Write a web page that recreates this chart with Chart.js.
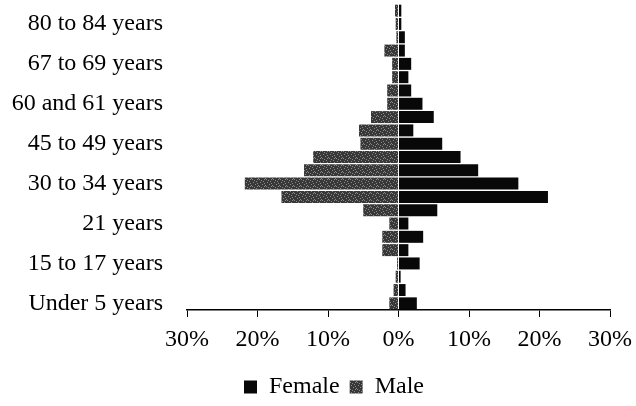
<!DOCTYPE html>
<html>
<head>
<meta charset="utf-8">
<script src="https://cdn.jsdelivr.net/npm/chart.js@4"></script>
<style>
  html, body { margin: 0; padding: 0; background: #fff; }
  canvas { display: block; }
</style>
</head>
<body>
<canvas id="pyramid" width="636" height="406"></canvas>
<script>
// age groups, bottom to top
const ageGroups = [
  'Under 5 years', '5 to 9 years', '10 to 14 years', '15 to 17 years',
  '18 and 19 years', '20 years', '21 years', '22 to 24 years',
  '25 to 29 years', '30 to 34 years', '35 to 39 years', '40 to 44 years',
  '45 to 49 years', '50 to 54 years', '55 to 59 years', '60 and 61 years',
  '62 to 64 years', '65 and 66 years', '67 to 69 years', '70 to 74 years',
  '75 to 79 years', '80 to 84 years', '85 years and over'
];

// percent of population (male drawn to the left)
const femaleValues = [2.6, 1.0, 0.3, 3.0, 1.4, 3.5, 1.4, 5.5, 21.2, 17.0, 11.3, 8.8,
                      6.2, 2.1, 5.0, 3.4, 1.8, 1.4, 1.8, 0.9, 0.9, 0.4, 0.4];
const maleValues   = [1.3, 0.7, 0.4, 0.2, 2.3, 2.3, 1.3, 5.0, 16.6, 21.8, 13.4, 12.1,
                      5.4, 5.6, 3.9, 1.6, 1.6, 0.9, 0.9, 2.0, 0.3, 0.4, 0.5];

const xTicks = [-30, -20, -10, 0, 10, 20, 30];

// grainy grey fill like the scanned male bars
function stipple() {
  const c = document.createElement('canvas');
  c.width = 7; c.height = 7;
  const g = c.getContext('2d');
  g.fillStyle = '#383838';
  g.fillRect(0, 0, 7, 7);
  g.fillStyle = '#8a8a8a';
  [[1, 0], [5, 1], [3, 2], [0, 4], [6, 3], [2, 5], [4, 6], [5, 4]]
    .forEach(([x, y]) => g.fillRect(x, y, 1, 1));
  return g.createPattern(c, 'repeat');
}

const serifFamily = '"Liberation Serif", "Times New Roman", serif';
const serif = { family: serifFamily, size: 24 };

// legend sits a little right of the canvas centre in the scan
const legendNudge = {
  id: 'legendNudge',
  afterLayout(chart) {
    const lg = chart.legend;
    lg.left += 29; lg.right += 29;
    lg.top += 3; lg.bottom += 3;
  }
};

new Chart(document.getElementById('pyramid'), {
  type: 'bar',
  data: {
    labels: ageGroups,
    datasets: [
      {
        label: 'Female', data: femaleValues,
        backgroundColor: '#080808', borderWidth: 0,
        barPercentage: 1.0, categoryPercentage: 0.9,
      },
      {
        label: 'Male', data: maleValues.map(v => -v),
        backgroundColor: stipple(), borderWidth: 0,
        barPercentage: 1.0, categoryPercentage: 0.9,
      }
    ]
  },
  options: {
    indexAxis: 'y',
    responsive: false,
    animation: false,
    layout: { padding: { left: 0, right: 26, top: 4, bottom: 0 } },
    plugins: {
      tooltip: { enabled: false },
      legend: {
        position: 'bottom',
        labels: { color: '#000', font: serif, boxWidth: 13, boxHeight: 13, padding: 10 }
      }
    },
    scales: {
      x: {
        stacked: true,
        min: -30, max: 30,
        afterBuildTicks: s => { s.ticks = xTicks.map(v => ({ value: v })); },
        ticks: { color: '#000', font: serif, padding: 8, callback: v => Math.abs(v) + '%' },
        grid: { drawOnChartArea: false, drawTicks: true, tickLength: 7, color: '#000' },
        border: { display: true, color: '#000', width: 1.5 },
        afterFit: s => {
          s.height = 52;
          // end labels may hang past the plot; the right margin is set by layout padding
          s.paddingLeft = 0;
          s.paddingRight = 0;
        }
      },
      y: {
        stacked: true,
        reverse: true,
        ticks: {
          color: '#000', font: { family: serifFamily, size: 24, lineHeight: 0.3 },
          padding: 0, autoSkip: false,
          callback: (v, i) => i % 3 === 0 ? ageGroups[i] : ''
        },
        // tick marks hidden, but their length sets the gap between labels and bars
        grid: { display: false, drawTicks: true, tickLength: 24 },
        border: { display: false },
        afterFit: s => { s.width = 187; }
      }
    }
  },
  plugins: [legendNudge]
});
</script>
</body>
</html>
